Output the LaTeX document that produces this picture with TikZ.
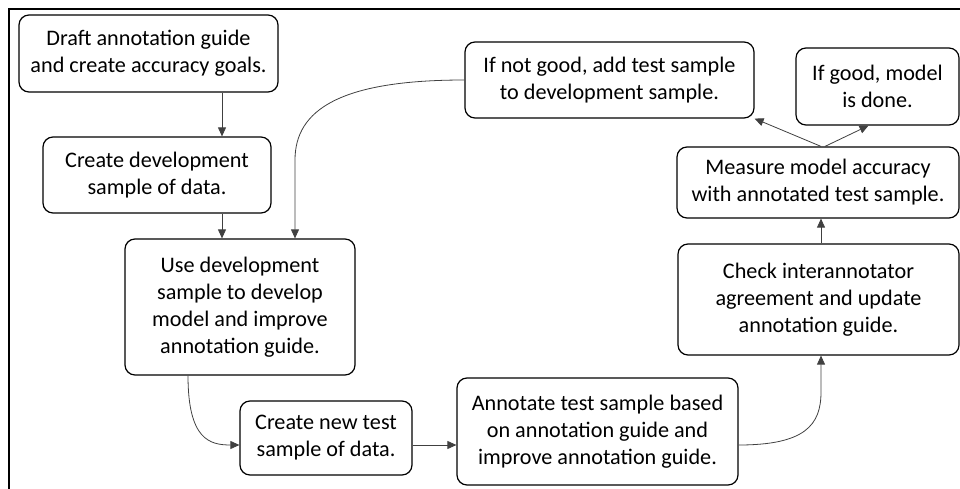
\documentclass[tikz,border=0pt]{standalone}
\usepackage{fontspec}
\setmainfont{Carlito}
\usetikzlibrary{arrows.meta}
\begin{document}
\begin{tikzpicture}[x=1pt,y=-1pt,
    box/.style={draw, line width=1.2pt, rounded corners=10pt, align=center,
        inner sep=0pt, font=\fontsize{22.2}{27}\selectfont},
    arr/.style={-{Triangle[length=9pt,width=8pt]}, draw=black!75, line width=0.8pt}]
    \useasboundingbox (0,0) rectangle (960,489);
    % Frame
    \draw[line width=2.4pt] (9,500) -- (9,9) -- (975,9);
    % Steps
    \node[box, minimum width=259, minimum height=77] (draft) at (148.5,53.5)
        {Draft annotation guide\\and create accuracy goals.};
    \node[box, minimum width=228, minimum height=76] (devsample) at (157,175)
        {Create development\\sample of data.};
    \node[box, minimum width=230, minimum height=136] (usedev) at (240,307)
        {Use development\\sample to develop\\model and improve\\annotation guide.};
    \node[box, minimum width=172, minimum height=74] (newtest) at (326,438)
        {Create new test\\sample of data.};
    \node[box, minimum width=281, minimum height=107] (annotate) at (597.5,431.5)
        {Annotate test sample based\\on annotation guide and\\improve annotation guide.};
    \node[box, minimum width=281, minimum height=111] (check) at (818.5,299.5)
        {Check interannotator\\agreement and update\\annotation guide.};
    \node[box, minimum width=282, minimum height=71] (measure) at (818,182.5)
        {Measure model accuracy\\with annotated test sample.};
    \node[box, minimum width=289, minimum height=76] (notgood) at (609.5,80)
        {If not good, add test sample\\to development sample.};
    \node[box, minimum width=163, minimum height=77] (good) at (877.5,86.5)
        {If good, model\\is done.};
    % Guide lines
    \coordinate (c1) at (222,0);
    \coordinate (c2) at (295,0);
    \coordinate (c3) at (188,0);
    \coordinate (c4) at (821,0);
    \coordinate (row) at (0,445);
    \coordinate (bend1) at (295,160);
    \coordinate (bend2) at (821,392);
    % Connectors
    \draw[arr] (draft.south -| c1) -- (devsample.north -| c1);
    \draw[arr] (devsample.south -| c1) -- (usedev.north -| c1);
    \draw[arr] (notgood.west) .. controls (340,80) and (295,110) .. (bend1) -- (usedev.north -| c2);
    \draw[arr] (usedev.south -| c3) .. controls (188,440) and (210,445) .. (newtest.west |- row);
    \draw[arr] (newtest.east |- row) -- (annotate.west |- row);
    \draw[arr] (annotate.east |- row) .. controls (805,445) and (821,425) .. (bend2) -- (check.south -| c4);
    \draw[arr] (check.north -| c4) -- (measure.south -| c4);
    \draw[arr] (measure.north -| c4) -- (notgood.south east);
    \draw[arr] ([xshift=4pt]measure.north -| c4) -- ([xshift=-9pt]good.south);
\end{tikzpicture}
\end{document}
